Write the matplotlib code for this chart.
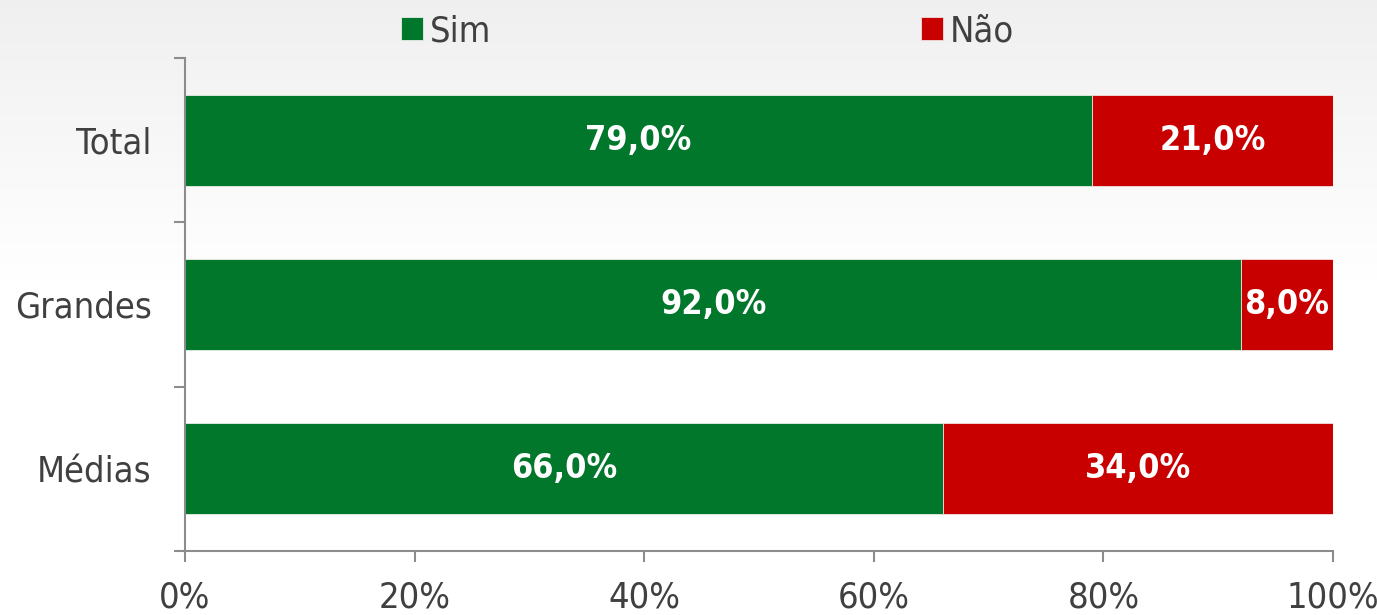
import matplotlib
matplotlib.use("Agg")
import matplotlib.pyplot as plt
import numpy as np

categories = ["Total", "Grandes", "Médias"]
sim = [79.0, 92.0, 66.0]
nao = [21.0, 8.0, 34.0]
series_names = ["Sim", "Não"]
x_ticks = [0, 20, 40, 60, 80, 100]
x_tick_labels = ["0%", "20%", "40%", "60%", "80%", "100%"]

GREEN = "#00772A"
RED = "#C80000"
AXIS = "#8C8C8C"
TEXT = "#404040"

plt.rcParams["font.family"] = ["DejaVu Sans"]
plt.rcParams["font.stretch"] = "condensed"

fig = plt.figure(figsize=(13.77, 6.15), dpi=100)

# subtle background gradient
bg = fig.add_axes([0, 0, 1, 1], zorder=-10)
grad = np.linspace(0, 1, 256).reshape(-1, 1)
top = np.array([0.94, 0.94, 0.94])
bot = np.array([1.0, 1.0, 1.0])
w = np.clip(grad * 2.2, 0, 1)
img = top * (1 - w) + bot * w
bg.imshow(img[:, None, :].repeat(2, axis=1), aspect="auto", extent=[0, 1, 0, 1], origin="upper")
bg.set_axis_off()

ax = fig.add_axes([185 / 1377, 1 - 551 / 615, (1333 - 185) / 1377, (551 - 58) / 615])
ax.patch.set_alpha(0)

y = np.arange(len(categories))
h = 0.555
b1 = ax.barh(y, sim, height=h, color=GREEN, edgecolor="#e8f0e8", linewidth=0.6, label=series_names[0])
b2 = ax.barh(y, nao, left=sim, height=h, color=RED, edgecolor="#f0e0e0", linewidth=0.6, label=series_names[1])

for bars, vals in ((b1, sim), (b2, nao)):
    for rect, v in zip(bars, vals):
        cx = rect.get_x() + rect.get_width() / 2
        cy = rect.get_y() + rect.get_height() / 2
        ax.text(cx, cy, f"{v:.1f}%".replace(".", ","), ha="center", va="center",
                color="white", fontsize=24.5, fontweight="bold")

ax.set_xlim(0, 100)
ax.set_ylim(2.5, -0.5)

ax.set_xticks(x_ticks)
ax.set_xticklabels(x_tick_labels)
ax.set_yticks([-0.5, 0.5, 1.5, 2.5])
ax.set_yticklabels([])
ax.set_yticks(y, minor=True)
ax.set_yticklabels(categories, minor=True)

ax.tick_params(axis="x", which="major", length=8, width=1.5, color=AXIS, labelsize=26,
               labelcolor=TEXT, pad=13)
ax.tick_params(axis="y", which="major", length=8, width=1.5, color=AXIS)
ax.tick_params(axis="y", which="minor", length=0, labelsize=26, labelcolor=TEXT, pad=24)

for s in ("top", "right"):
    ax.spines[s].set_visible(False)
for s in ("left", "bottom"):
    ax.spines[s].set_color(AXIS)
    ax.spines[s].set_linewidth(1.5)

leg = fig.legend(handles=[b1, b2], labels=series_names, loc="center",
                 bbox_to_anchor=(0.514, 1 - 31 / 615), ncol=2, frameon=False,
                 fontsize=26, handlelength=0.6, handleheight=0.6, handletextpad=0.2,
                 columnspacing=11.9, labelcolor=TEXT)

fig.savefig("out.png", dpi=100)
